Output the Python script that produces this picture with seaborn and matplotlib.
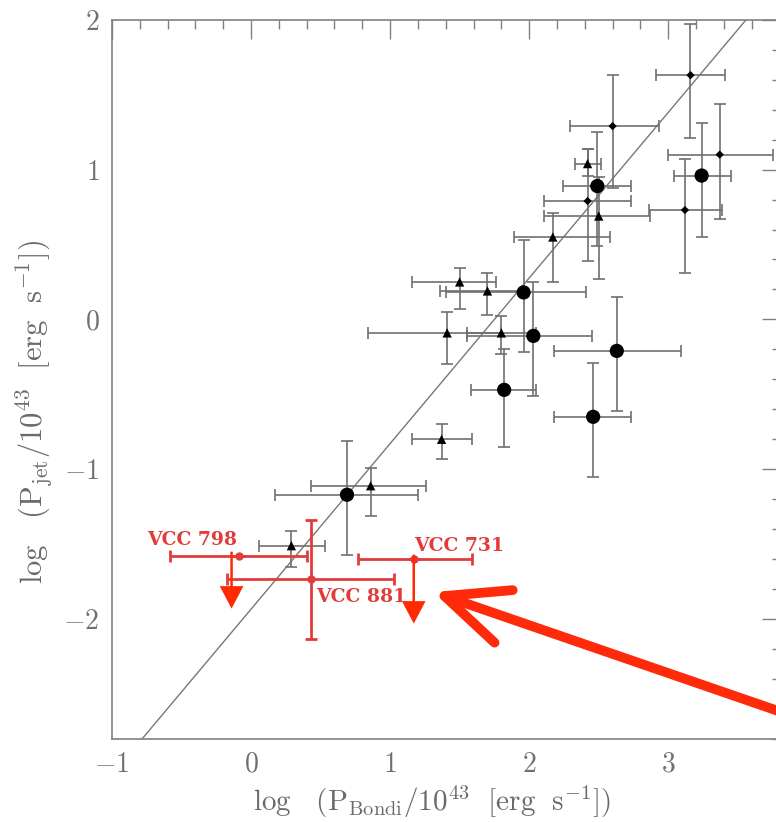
import numpy as np
import pandas as pd
import seaborn as sns
import matplotlib.pyplot as plt
from matplotlib.ticker import MultipleLocator

# black sample: log P_Bondi (x), log P_jet (y) with asymmetric errors
circ_x = [3.24, 2.49, 1.96, 2.03, 1.82, 2.63, 2.46, 0.69]
circ_y = [0.96, 0.89, 0.18, -0.11, -0.47, -0.21, -0.65, -1.17]
circ_xlo = [3.04, 2.24, 1.40, 1.55, 1.58, 2.18, 2.18, 0.17]
circ_xhi = [3.45, 2.73, 2.41, 2.45, 2.05, 3.09, 2.73, 1.20]
circ_ylo = [0.55, 0.49, -0.22, -0.51, -0.85, -0.61, -1.05, -1.57]
circ_yhi = [1.31, 1.25, 0.53, 0.25, -0.20, 0.15, -0.29, -0.81]

tri_x = [2.42, 2.50, 2.17, 1.50, 1.70, 1.41, 1.80, 1.37, 0.86, 0.29]
tri_y = [1.04, 0.69, 0.55, 0.25, 0.19, -0.09, -0.09, -0.80, -1.11, -1.51]
tri_xlo = [2.33, 2.11, 1.89, 1.16, 1.36, 0.84, 1.55, 1.16, 0.43, 0.06]
tri_xhi = [2.52, 2.87, 2.58, 1.76, 1.95, 1.80, 2.05, 1.59, 1.26, 0.53]
tri_ylo = [0.96, 0.27, 0.25, 0.07, 0.03, -0.30, -0.23, -0.93, -1.31, -1.65]
tri_yhi = [1.14, 0.95, 0.71, 0.34, 0.31, 0.05, 0.02, -0.70, -0.99, -1.41]

dia_x = [3.16, 2.60, 3.37, 3.12, 2.42]
dia_y = [1.63, 1.29, 1.10, 0.73, 0.79]
dia_xlo = [2.91, 2.29, 3.00, 2.86, 2.11]
dia_xhi = [3.41, 2.93, 3.75, 3.39, 2.73]
dia_ylo = [1.21, 0.88, 0.67, 0.31, 0.39]
dia_yhi = [1.97, 1.63, 1.44, 1.07, 1.14]

# red VCC galaxies
vcc_names = ['VCC 798', 'VCC 881', 'VCC 731']
vcc_x = [-0.09, 0.43, 1.17]
vcc_y = [-1.58, -1.73, -1.60]
vcc_xlo = [-0.58, -0.17, 0.77]
vcc_xhi = [0.40, 1.03, 1.59]
vcc_ylo = [-1.58, -2.13, -1.60]
vcc_yhi = [-1.58, -1.34, -1.60]
vcc_upper = [True, False, True]
vcc_arrow_x = [-0.14, None, 1.17]
vcc_arrow_tip = [-1.93, None, -2.03]

# fitted relation
fit_x = [-0.784, 3.56]
fit_slope = 1.105
fit_y0 = -2.8

frames = []
for kind, xs, ys, xl, xh, yl, yh in [
    ('circle', circ_x, circ_y, circ_xlo, circ_xhi, circ_ylo, circ_yhi),
    ('triangle', tri_x, tri_y, tri_xlo, tri_xhi, tri_ylo, tri_yhi),
    ('diamond', dia_x, dia_y, dia_xlo, dia_xhi, dia_ylo, dia_yhi),
]:
    frames.append(pd.DataFrame({'x': xs, 'y': ys, 'xlo': xl, 'xhi': xh,
                                'ylo': yl, 'yhi': yh, 'kind': kind}))
df = pd.concat(frames, ignore_index=True)

sns.set_style('white')
plt.rcParams['mathtext.fontset'] = 'cm'
plt.rcParams['axes.formatter.use_mathtext'] = True
plt.rcParams['font.family'] = ['cmr10', 'DejaVu Serif']

grey = '#808080'
fig = plt.figure(figsize=(7.76, 8.22), dpi=100)
ax = fig.add_axes([0.1443, 0.101, 0.862, 0.875])

xx = np.array(fit_x)
ax.plot(xx, fit_y0 + fit_slope * (xx - fit_x[0]), color='#777777', lw=1.0, zorder=1)

ax.errorbar(df['x'], df['y'],
            xerr=[df['x'] - df['xlo'], df['xhi'] - df['x']],
            yerr=[df['y'] - df['ylo'], df['yhi'] - df['y']],
            fmt='none', ecolor='#707070', elinewidth=1.2, capsize=4, capthick=1.2, zorder=2)
sns.scatterplot(data=df, x='x', y='y', style='kind', size='kind',
                markers={'circle': 'o', 'triangle': '^', 'diamond': 'D'},
                sizes={'circle': 105, 'triangle': 45, 'diamond': 18},
                color='black', edgecolor='none', legend=False, ax=ax, zorder=3)

red = '#e23b3b'
vx = np.array(vcc_x)
vy = np.array(vcc_y)
ax.errorbar(vx, vy,
            xerr=[vx - np.array(vcc_xlo), np.array(vcc_xhi) - vx],
            yerr=[vy - np.array(vcc_ylo), np.array(vcc_yhi) - vy],
            fmt='o', ms=5, color=red, ecolor=red, elinewidth=2, capsize=4, capthick=2, zorder=4)
for i in range(3):
    if vcc_upper[i]:
        ax.arrow(vcc_arrow_x[i], vcc_y[i] + 0.03, 0, vcc_arrow_tip[i] - vcc_y[i] - 0.03,
                 width=0.018, head_width=0.17, head_length=0.15,
                 length_includes_head=True, color='#ff2a00', lw=0, zorder=5)

label_pos = [(-0.75, -1.507), (0.468, -1.887), (1.17, -1.547)]
for name, (tx, ty) in zip(vcc_names, label_pos):
    ax.text(tx, ty, name, color=red, fontsize=13.5, fontweight='bold',
            family='DejaVu Serif', va='baseline', ha='left', zorder=6)

# big pointer arrow
ax.annotate('', xy=(1.31, -1.82), xytext=(4.0, -2.68),
            arrowprops=dict(arrowstyle='->,head_length=4.5,head_width=2.0',
                            color='#ff2a0a', lw=7, mutation_scale=10,
                            shrinkA=0, shrinkB=0),
            annotation_clip=False, zorder=7)

ax.set_xlim(-1, 3.81)
ax.set_ylim(-2.8, 2)
ax.xaxis.set_major_locator(MultipleLocator(1))
ax.xaxis.set_minor_locator(MultipleLocator(0.2))
ax.yaxis.set_major_locator(MultipleLocator(1))
ax.yaxis.set_minor_locator(MultipleLocator(0.2))
ax.tick_params(which='both', direction='in', top=True, right=True,
               color=grey, width=1.0, labelcolor='#707070', labelsize=20, pad=9)
ax.tick_params(which='major', length=14)
ax.tick_params(which='minor', length=6.5)
for s in ax.spines.values():
    s.set_color(grey)
    s.set_linewidth(1.2)

ax.set_xlabel(r'$\rm log\ \ \ (P_{Bondi}/10^{43}\ \ [erg\ \ s^{-1}])$', fontsize=21, color='#6a6a6a')
ax.set_ylabel(r'$\rm log\ \ \ (P_{jet}/10^{43}\ \ [erg\ \ s^{-1}])$', fontsize=22, color='#6a6a6a')
ax.xaxis.set_label_coords(0.478, -0.062)
ax.yaxis.set_label_coords(-0.085, 0.455)

fig.savefig('out.png', dpi=100)
